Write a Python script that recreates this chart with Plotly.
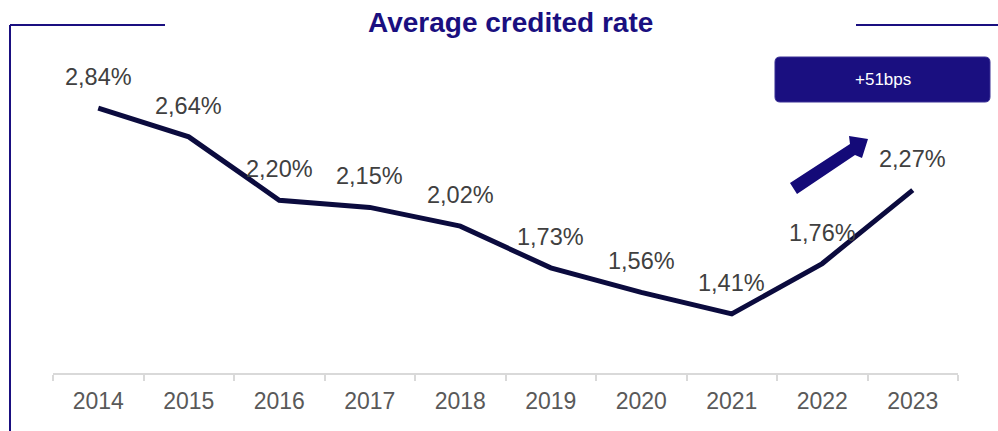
import plotly.graph_objects as go

# Average credited rate by year (%)
years = ["2014", "2015", "2016", "2017", "2018", "2019", "2020", "2021", "2022", "2023"]
rates = [2.84, 2.64, 2.20, 2.15, 2.02, 1.73, 1.56, 1.41, 1.76, 2.27]
rate_labels = [f"{v:.2f}%".replace(".", ",") for v in rates]
change_label = "+51bps"
title_text = "Average credited rate"

W, H = 998, 431
M_L, M_R, M_T, M_B = 53, 40, 85, 58
NAVY = "#1a0f80"
LINE = "#0b0b3e"
FONT = "Arial, Liberation Sans, sans-serif"


def px(x, y):
    """Convert page pixel position to paper coordinates."""
    pw = W - M_L - M_R
    ph = H - M_T - M_B
    return (x - M_L) / pw, (H - M_B - y) / ph


def path(points, close=True):
    parts = []
    for i, (x, y) in enumerate(points):
        u, v = px(x, y)
        parts.append(("M" if i == 0 else "L") + f"{u:.5f},{v:.5f}")
    return " ".join(parts) + (" Z" if close else "")


def rounded_rect(x0, y0, x1, y1, r):
    u0, top = px(x0, y0)
    u1, bot = px(x1, y1)
    ru = r / (W - M_L - M_R)
    rv = r / (H - M_T - M_B)
    return (f"M{u0+ru:.5f},{top:.5f} L{u1-ru:.5f},{top:.5f} Q{u1:.5f},{top:.5f} {u1:.5f},{top-rv:.5f} "
            f"L{u1:.5f},{bot+rv:.5f} Q{u1:.5f},{bot:.5f} {u1-ru:.5f},{bot:.5f} "
            f"L{u0+ru:.5f},{bot:.5f} Q{u0:.5f},{bot:.5f} {u0:.5f},{bot+rv:.5f} "
            f"L{u0:.5f},{top-rv:.5f} Q{u0:.5f},{top:.5f} {u0+ru:.5f},{top:.5f} Z")


fig = go.Figure()
fig.add_trace(go.Scatter(
    x=years, y=rates, mode="lines",
    line=dict(color=LINE, width=5, shape="linear"),
    hoverinfo="skip", showlegend=False,
))

# value labels above each point (category index positions)
for i, (v, lab) in enumerate(zip(rates, rate_labels)):
    fig.add_annotation(x=i, y=v, xref="x", yref="y", text=lab, showarrow=False,
                       yshift=31, yanchor="middle",
                       font=dict(family=FONT, size=23.5, color="#404040"))

shapes = []
# frame lines around the title
for (x0, y0, x1, y1) in [(10, 25, 165, 25), (10, 25, 10, 431), (856, 25, 998, 25)]:
    u0, v0 = px(x0, y0)
    u1, v1 = px(x1, y1)
    shapes.append(dict(type="line", xref="paper", yref="paper", x0=u0, y0=v0, x1=u1, y1=v1,
                       line=dict(color=NAVY, width=2)))

# change badge
shapes.append(dict(type="path", xref="paper", yref="paper",
                   path=rounded_rect(775, 57, 990, 102, 5),
                   fillcolor=NAVY, line=dict(color="#3a3195", width=1)))

# upward arrow
arrow_pts = [(790, 183), (797, 194), (855, 155), (862, 158), (868, 139), (849, 136), (850, 144)]
shapes.append(dict(type="path", xref="paper", yref="paper", path=path(arrow_pts),
                   fillcolor="#140a78", line=dict(width=0)))
fig.update_layout(shapes=shapes)

bx, by = px(882.5, 80)
fig.add_annotation(xref="paper", yref="paper", x=bx, y=by, text=change_label, showarrow=False,
                   xanchor="center", yanchor="middle",
                   font=dict(family=FONT, size=17, color="white"))

tx, ty = px(510.5, 22)
fig.add_annotation(xref="paper", yref="paper", x=tx, y=ty, text=f"<b>{title_text}</b>",
                   showarrow=False, xanchor="center", yanchor="middle",
                   font=dict(family=FONT, size=28, color=NAVY))

fig.update_layout(
    width=W, height=H,
    margin=dict(l=M_L, r=M_R, t=M_T, b=M_B),
    paper_bgcolor="white", plot_bgcolor="white",
    xaxis=dict(type="category", range=[-0.5, 9.5], showgrid=False, zeroline=False,
               showline=True, linecolor="#d9d9d9", linewidth=2,
               ticks="outside", tickson="boundaries", ticklen=6, tickwidth=2, tickcolor="#d9d9d9",
               ticklabelstandoff=6,
               tickfont=dict(family=FONT, size=23, color="#595959"), fixedrange=True),
    yaxis=dict(range=[1.0, 3.0], visible=False, fixedrange=True),
    showlegend=False,
)

fig.write_html("out.html")
